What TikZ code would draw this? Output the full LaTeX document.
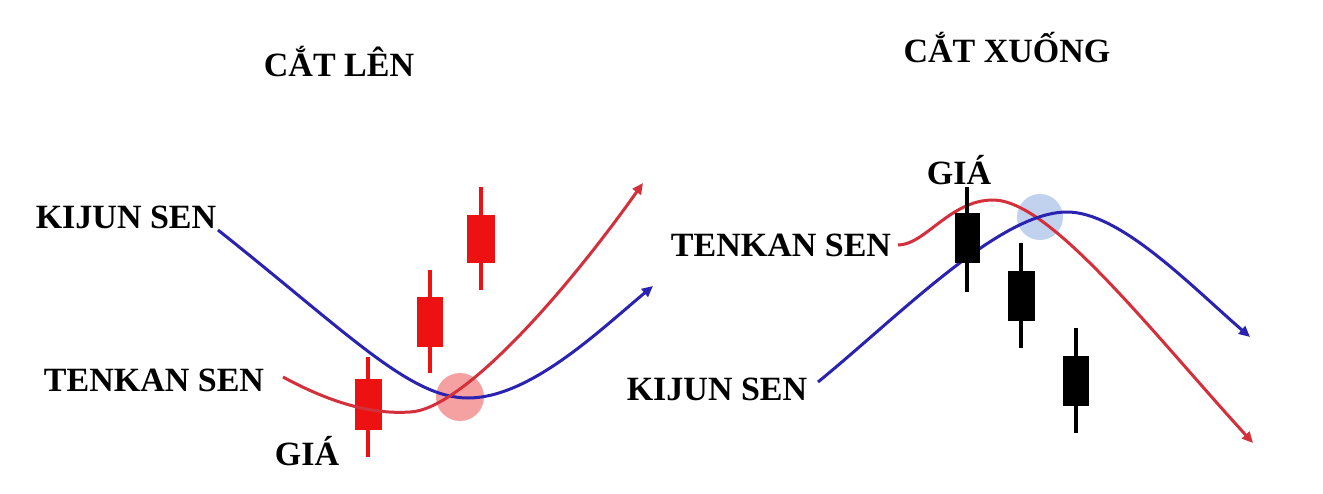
\documentclass[tikz,border=0pt]{standalone}
\usepackage{fontspec}
\setmainfont{Liberation Serif}
\usetikzlibrary{arrows.meta}
\definecolor{lineblue}{HTML}{2A22B0}
\definecolor{linered}{HTML}{D3303C}
\definecolor{candlered}{HTML}{EE1111}
\definecolor{circred}{HTML}{F07070}
\definecolor{circblue}{HTML}{A8C0E8}
\begin{document}
\begin{tikzpicture}[x=1pt,y=-1pt,
  lbl/.style={font=\fontsize{34}{34}\selectfont\bfseries, inner sep=0pt, text=black},
  curve/.style={line width=3pt, -{Triangle[length=11pt,width=10pt]}},
  wick/.style={line width=3.5pt},
  redbody/.style={fill=candlered, draw=none},
  blackbody/.style={fill=black, draw=none}]
\useasboundingbox (0,0) rectangle (1323,493);
\fill[white] (0,0) rectangle (1323,493);

% titles
\node[lbl] (t1) at (339,62) {CẮT LÊN};
\node[lbl] (t2) at (1007,48) {CẮT XUỐNG};

% left labels
\node[lbl] (kl) at (126,217) {KIJUN SEN};
\node[lbl] (tl) at (154,380) {TENKAN SEN};
\node[lbl] (gl) at (307,451) {GIÁ};

% right labels
\node[lbl] (gr) at (959,170) {GIÁ};
\node[lbl] (tr) at (781,245) {TENKAN SEN};
\node[lbl] (kr) at (717,389) {KIJUN SEN};

% left circle
\fill[circred, opacity=0.65] (460,397) circle (24);

% left candles
\draw[wick, candlered] (368,357) -- (368,457);
\fill[redbody] (355,379) rectangle (382,430);
\draw[wick, candlered] (430,270) -- (430,373);
\fill[redbody] (417,297) rectangle (443,347);
\draw[wick, candlered] (481,187) -- (481,290);
\fill[redbody] (467,215) rectangle (495,263);

% left curves
\coordinate (kl0) at (218,230);
\coordinate (klm) at (468,398);
\coordinate (kl1) at (653,286);
\draw[curve, lineblue] (kl0) .. controls (350,335) and (410,398) .. (klm)
   .. controls (530,398) and (600,330) .. (kl1);
\coordinate (tl0) at (283,377);
\coordinate (tlm) at (410,412);
\coordinate (tl1) at (643,183);
\draw[curve, linered] (tl0) .. controls (340,408) and (380,414) .. (tlm)
   .. controls (460,410) and (560,300) .. (tl1);

% right circle
\fill[circblue, opacity=0.7] (1040,217) circle (23);

% right curves
\coordinate (tr0) at (898,245);
\coordinate (trm) at (993,200);
\coordinate (tr1) at (1253,443);
\draw[curve, linered] (tr0) .. controls (925,245) and (950,200) .. (trm)
   .. controls (1050,200) and (1150,330) .. (tr1);
\coordinate (kr0) at (818,382);
\coordinate (krm) at (1067,212);
\coordinate (kr1) at (1250,337);
\draw[curve, lineblue] (kr0) .. controls (900,315) and (1000,212) .. (krm)
   .. controls (1120,212) and (1190,285) .. (kr1);

% right candles
\draw[wick, black] (967,187) -- (967,292);
\fill[blackbody] (955,213) rectangle (980,263);
\draw[wick, black] (1021,243) -- (1021,348);
\fill[blackbody] (1008,271) rectangle (1035,321);
\draw[wick, black] (1076,328) -- (1076,433);
\fill[blackbody] (1063,356) rectangle (1089,406);
\end{tikzpicture}
\end{document}
